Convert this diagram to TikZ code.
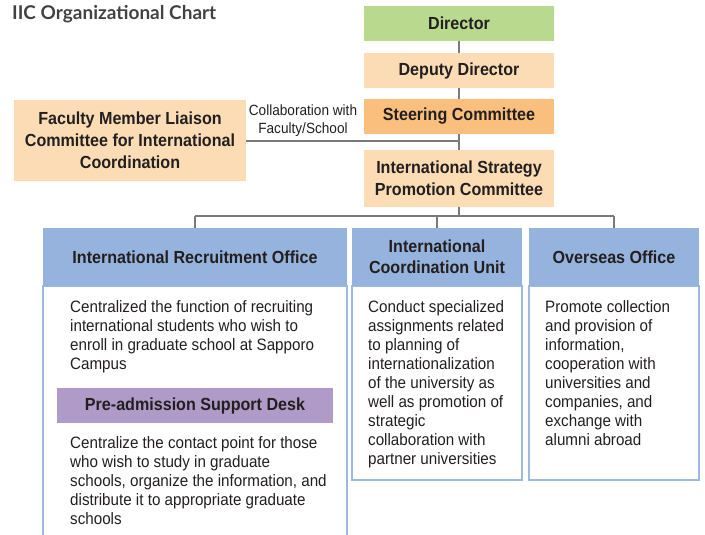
\documentclass[tikz,border=0pt]{standalone}
\usepackage{fontspec}
\setmainfont{Liberation Sans}[FakeStretch=0.92]
\newfontfamily\titlefont{Lato}
\definecolor{txt}{HTML}{231F20}
\definecolor{green1}{HTML}{B9D98E}
\definecolor{peach}{HTML}{FCDCB5}
\definecolor{orange1}{HTML}{FBBF7D}
\definecolor{blue1}{HTML}{95B3DC}
\definecolor{blueline}{HTML}{9DB9DF}
\definecolor{purple1}{HTML}{B09AC8}
\definecolor{conn}{HTML}{7A7A7A}
\begin{document}
\begin{tikzpicture}[x=1pt,y=-1pt,
  box/.style={inner sep=0pt, align=center, text=txt, font=\fontsize{17.5}{22}\selectfont\bfseries},
  hdr/.style={box, fill=blue1},
  body/.style={anchor=north west, inner sep=0pt, align=left, text=txt, font=\fontsize{16.5}{19}\selectfont},
  outline/.style={draw=blueline, line width=1.6pt},
  link/.style={draw=conn, line width=1.4pt}
]
\useasboundingbox (0,0) rectangle (705,535);
\node[anchor=north west, inner sep=0pt, text=txt!85, font=\titlefont\fontsize{19}{21}\selectfont\bfseries] (title) at (12,5) {IIC Organizational Chart};

\node[box, fill=green1, minimum width=190pt, minimum height=35pt] (dir) at (459,23.5) {Director};
\node[box, fill=peach, minimum width=190pt, minimum height=35pt] (dep) at (459,70.5) {Deputy Director};
\node[box, fill=orange1, minimum width=190pt, minimum height=35pt] (steer) at (459,116.5) {Steering Committee};
\node[box, fill=peach, minimum width=190pt, minimum height=57pt] (ispc) at (459,178.5) {International Strategy\\Promotion Committee};
\node[box, fill=peach, minimum width=232pt, minimum height=81pt] (fac) at (130,140.5) {Faculty Member Liaison\\Committee for International\\Coordination};
\node[inner sep=0pt, align=center, text=txt, font=\fontsize{14.8}{18}\selectfont] (collab) at (303,121) {Collaboration with\\Faculty/School};

\coordinate (cj) at (459,141);
\coordinate (bj) at (459,216);
\coordinate (lj) at (195,216);
\coordinate (mj) at (437,216);
\coordinate (rj) at (614,216);

% bodies
\draw[outline] (43,536) -- (43,286) -- (347,286) -- (347,536);
\draw[outline] (352,286) rectangle (522,480);
\draw[outline] (529,286) rectangle (699,480);

\node[hdr, minimum width=304pt, minimum height=58pt] (iro) at (195,257) {International Recruitment Office};
\node[hdr, minimum width=170pt, minimum height=58pt, font=\fontsize{17.5}{21}\selectfont\bfseries] (icu) at (437,257) {International\\Coordination Unit};
\node[hdr, minimum width=170pt, minimum height=58pt] (oo) at (614,257) {Overseas Office};
\node[box, fill=purple1, minimum width=276pt, minimum height=35pt] (pre) at (195,405.5) {Pre-admission Support Desk};

\node[body] (t1) at (70,300) {Centralized the function of recruiting\\international students who wish to\\enroll in graduate school at Sapporo\\Campus};
\node[body] (t2) at (70,436) {Centralize the contact point for those\\who wish to study in graduate\\schools, organize the information, and\\distribute it to appropriate graduate\\schools};
\node[body] (t3) at (368,300) {Conduct specialized\\assignments related\\to planning of\\internationalization\\of the university as\\well as promotion of\\strategic\\collaboration with\\partner universities};
\node[body] (t4) at (545,300) {Promote collection\\and provision of\\information,\\cooperation with\\universities and\\companies, and\\exchange with\\alumni abroad};

\draw[link] (dir.south) -- (dep.north);
\draw[link] (dep.south) -- (steer.north);
\draw[link] (steer.south) -- (ispc.north);
\draw[link] (fac.east |- cj) -- (cj);
\draw[link] (ispc.south) -- (bj);
\draw[link] (lj) -- (rj);
\draw[link] (lj) -- (iro.north);
\draw[link] (mj) -- (icu.north);
\draw[link] (rj) -- (oo.north);
\end{tikzpicture}
\end{document}
